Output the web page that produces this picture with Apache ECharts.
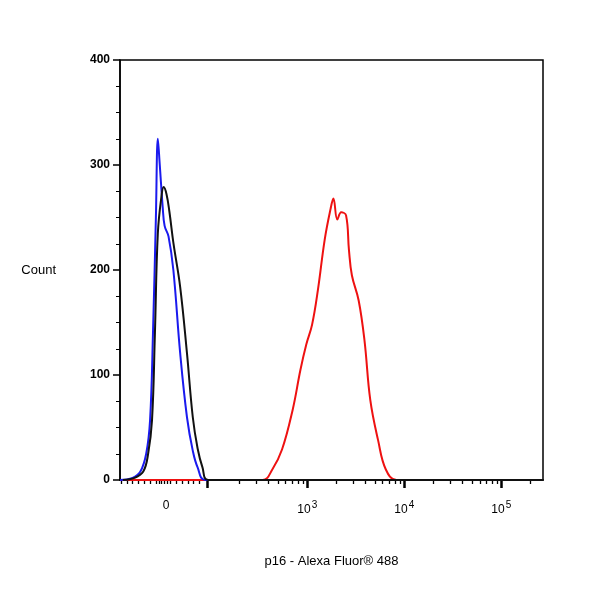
<!DOCTYPE html>
<html><head><meta charset="utf-8">
<script src="https://cdn.jsdelivr.net/npm/echarts@6/dist/echarts.min.js"></script>
<style>html,body{margin:0;padding:0;background:#fff}#c{width:592px;height:592px}</style>
</head><body><div id="c"></div>
<script>
// x values are in display (biexponential) decade units: 10^3 -> 3, 10^4 -> 4
const xMin = 1.07, xMax = 5.43;
const blueX = [1.07,1.20,1.28,1.34,1.38,1.41,1.44,1.46,1.48,1.51,1.53,1.57,1.62,1.69,1.76,1.82,1.87,1.95,5.43];
const blueY = [0,2,8,25,57,140,250,325,300,260,242,232,200,121,60,28,12,0,0];
const blackX = [1.10,1.22,1.31,1.36,1.40,1.43,1.46,1.50,1.52,1.55,1.58,1.62,1.69,1.76,1.82,1.87,1.92,1.98,5.43];
const blackY = [0,2,8,25,57,140,235,272,279,272,255,226,184,121,60,30,12,0,0];
const redX = [1.07,2.54,2.64,2.74,2.85,2.93,2.99,3.05,3.11,3.18,3.24,3.27,3.31,3.35,3.40,3.43,3.46,3.53,3.59,3.65,3.73,3.81,3.92,5.43];
const redY = [0,0,10,29,67,105,129,148,181,229,258,268,248,255,252,219,195,171,133,76,38,10,0,0];
const xTickPos = [1.546, 3, 4, 5];
const xTickLabels = ['0', '10{s|3}', '10{s|4}', '10{s|5}'];
const majorTicks = [1.97, 3, 4, 5];
const minorTicks = [];
[1.08,1.14,1.20,1.26,1.32,1.38,1.44,1.47,1.50,1.53,1.56,1.59,1.65,1.71,1.77,1.83,1.89].forEach(v=>minorTicks.push(v));
[2,3,4].forEach(dec=>{for(let k=2;k<=9;k++){minorTicks.push(dec+Math.log10(k));}});
minorTicks.push(5+Math.log10(2));

const pair = (xs, ys) => xs.map((x,i)=>[x, ys[i]]);
const chart = echarts.init(document.getElementById('c'));
const font = 'Liberation Sans';
const lineSeries = (name, color, data) => ({
  name, type:'line', data, smooth:0.4, symbol:'none', xAxisIndex:0,
  lineStyle:{color, width:2}
});
chart.setOption({
  animation:false,
  grid:{left:120, right:49, top:60, bottom:112, show:true, borderColor:'#000', borderWidth:1.5},
  xAxis:[{
    type:'value', min:xMin, max:xMax,
    axisLine:{lineStyle:{color:'#000', width:1.5}},
    splitLine:{show:false},
    axisTick:{customValues:majorTicks, length:8, lineStyle:{color:'#000', width:2.5}},
    axisLabel:{customValues:xTickPos, margin:20, color:'#000', fontFamily:font, fontSize:12,
      formatter:(v)=>{const i=xTickPos.findIndex(p=>Math.abs(p-v)<1e-6);return i>=0?xTickLabels[i]:'';},
      rich:{s:{fontSize:10, verticalAlign:'top', padding:[0,0,9,1], fontFamily:font}}},
    name:'p16 - Alexa Fluor® 488', nameLocation:'middle', nameGap:75,
    nameTextStyle:{color:'#000', fontFamily:font, fontSize:13}
  },{
    type:'value', min:xMin, max:xMax, position:'bottom', gridIndex:0,
    axisLine:{show:true, lineStyle:{color:'#000', width:1.5}}, splitLine:{show:false},
    axisTick:{show:true, customValues:minorTicks, length:4, lineStyle:{color:'#000', width:1.3}},
    axisLabel:{show:true, customValues:minorTicks, formatter:()=>''}
  }],
  yAxis:{
    type:'value', min:0, max:400, interval:100,
    axisLine:{show:true, lineStyle:{color:'#000', width:1.5}},
    splitLine:{show:false},
    axisTick:{show:true, length:7, lineStyle:{color:'#000', width:1.5}},
    minorTick:{show:true, splitNumber:4, length:4, lineStyle:{color:'#000'}},
    axisLabel:{color:'#000', fontFamily:font, fontSize:12, fontWeight:'bold', margin:10},
    name:'Count', nameLocation:'middle', nameRotate:0, nameGap:64,
    nameTextStyle:{color:'#000', fontFamily:font, fontSize:13}
  },
  series:[
    lineSeries('red','#ee1111',pair(redX,redY)),
    lineSeries('blue','#1a1aee',pair(blueX,blueY)),
    lineSeries('black','#111111',pair(blackX,blackY))
  ]
});
</script></body></html>
